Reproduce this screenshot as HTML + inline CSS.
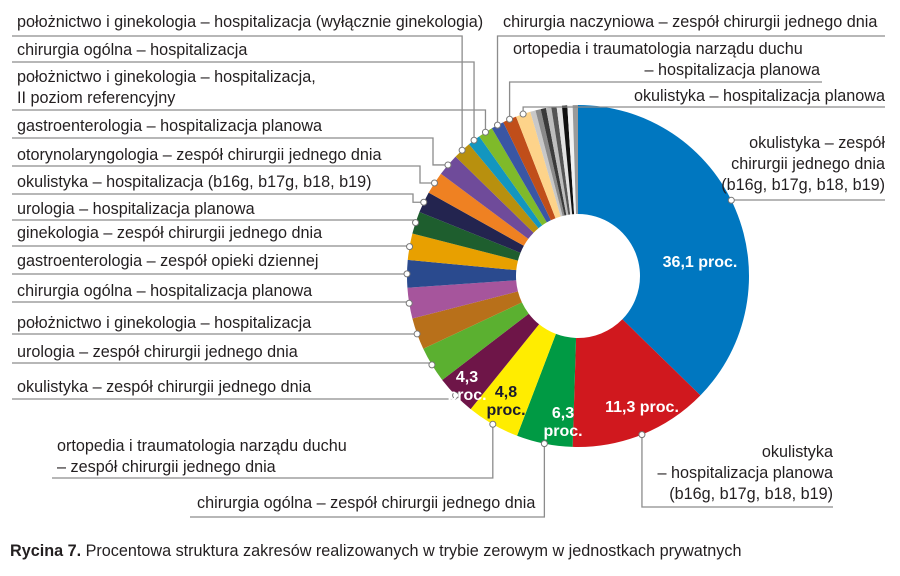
<!DOCTYPE html>
<html><head><meta charset="utf-8">
<style>
html,body{margin:0;padding:0;background:#fff;}
body{width:900px;height:571px;overflow:hidden;font-family:"Liberation Sans",sans-serif;}
svg text{font-family:"Liberation Sans",sans-serif;}
</style></head>
<body>
<svg id="chart" width="900" height="571" viewBox="0 0 900 571" xmlns="http://www.w3.org/2000/svg">
<g id="slices"></g>
<g id="callouts"></g>
<g id="labels" font-size="16.2" fill="#231f20"></g>
<g id="vals" font-size="16" font-weight="bold" text-anchor="middle"></g>
<text x="10" y="556" font-size="16.2" fill="#231f20"><tspan font-weight="bold">Rycina 7.</tspan> Procentowa struktura zakresów realizowanych w trybie zerowym w jednostkach prywatnych</text>
</svg>
<script>
const shares = [37.3,13.2,5.3,5.0,3.8,3.4,3.0,2.9,2.6,2.5,2.1,2.0,2.1,2.1,1.7,1.2,1.4,1.2,1.3,1.4,0.5,0.5,0.5,0.5,0.5,0.5,0.5,0.5,0.5];
const colors = ["#0077c0","#d0181e","#009a44","#ffed00","#6e1548","#5bb030","#b8701a","#a6559c","#2a4a8e","#e8a000","#1e5e2e","#23244f","#ef8122","#6f4b9a","#b8900e","#1396bf","#7fba2a","#3a56a4","#c04e1a","#fdd38a","#c8c8c8","#8a8a8a","#3a3a3a","#bdbdbd","#555","#e2e2e2","#111","#f2f2f2","#9a9a9a"];
const valueTexts = ["36,1 proc.","11,3 proc.","6,3|proc.","4,8|proc.","4,3|proc."];
const cx=578, cy=276, R=171, r0=62;
const svgNS="http://www.w3.org/2000/svg";
function ang(p){return p/100*2*Math.PI;}
function pt(a,rad){return [cx+rad*Math.sin(a), cy-rad*Math.cos(a)];}
const gS=document.getElementById('slices');
let cum=0; const mids=[];
shares.forEach((s,i)=>{
  const a0=ang(cum), a1=ang(cum+s); cum+=s; mids.push((a0+a1)/2);
  const [x0,y0]=pt(a0,R),[x1,y1]=pt(a1,R),[x2,y2]=pt(a1,r0),[x3,y3]=pt(a0,r0);
  const lg=(a1-a0)>Math.PI?1:0;
  const p=document.createElementNS(svgNS,'path');
  p.setAttribute('d',`M${x0},${y0}A${R},${R} 0 ${lg} 1 ${x1},${y1}L${x2},${y2}A${r0},${r0} 0 ${lg} 0 ${x3},${y3}Z`);
  p.setAttribute('fill',colors[i]);
  
  
  gS.appendChild(p);
});
const gV=document.getElementById('vals');
const valPos=[[700,267,"#fff"],[642,412,"#fff"],[563,418,"#fff"],[506,397,"#1a1a2e"],[467,382,"#fff"]];
valueTexts.forEach((t,i)=>{
  const parts=t.split('|');
  parts.forEach((pp,j)=>{
    const tx=document.createElementNS(svgNS,'text');
    tx.setAttribute('x',valPos[i][0]);tx.setAttribute('y',valPos[i][1]+j*18);
    tx.setAttribute('fill',valPos[i][2]);tx.textContent=pp;
    
    
    gV.appendChild(tx);
  });
});
const L=[
 [14,["położnictwo i ginekologia – hospitalizacja (wyłącznie ginekologia)"],17,27,"start",36,12,null,null],
 [15,["chirurgia ogólna – hospitalizacja"],17,55,"start",62,12,null,null],
 [16,["położnictwo i ginekologia – hospitalizacja,","II poziom referencyjny"],17,82,"start",110,12,null,null],
 [13,["gastroenterologia – hospitalizacja planowa"],17,131,"start",138,12,null,433],
 [12,["otorynolaryngologia – zespół chirurgii jednego dnia"],17,160,"start",166,12,null,420],
 [11,["okulistyka – hospitalizacja (b16g, b17g, b18, b19)"],17,187,"start",194,12,null,413],
 [10,["urologia – hospitalizacja planowa"],17,214,"start",220,12,null,null],
 [9,["ginekologia – zespół chirurgii jednego dnia"],17,238,"start",246,12,null,null],
 [8,["gastroenterologia – zespół opieki dziennej"],17,266,"start",274,12,null,null],
 [7,["chirurgia ogólna – hospitalizacja planowa"],17,296,"start",302,12,null,null],
 [6,["położnictwo i ginekologia – hospitalizacja"],17,328,"start",334,12,null,null],
 [5,["urologia – zespół chirurgii jednego dnia"],17,357,"start",363,12,null,null],
 [4,["okulistyka – zespół chirurgii jednego dnia"],17,392,"start",399,12,null,null],
 [3,["ortopedia i traumatologia narządu duchu","– zespół chirurgii jednego dnia"],57,451,"start",478,52,null,null],
 [2,["chirurgia ogólna – zespół chirurgii jednego dnia"],197,508,"start",517,190,null,null],
 [17,["chirurgia naczyniowa – zespół chirurgii jednego dnia"],503,27,"start",36,null,885,null],
 [18,["ortopedia i traumatologia narządu duchu","– hospitalizacja planowa"],820,54,"end",82,null,822,null],
 [19,["okulistyka – hospitalizacja planowa"],885,101,"end",107,null,885,null],
 [0,["okulistyka – zespół","chirurgii jednego dnia","(b16g, b17g, b18, b19)"],885,148,"end",200,null,885,null],
 [1,["okulistyka","– hospitalizacja planowa","(b16g, b17g, b18, b19)"],833,457,"end",507,null,833,null]
];
const gL=document.getElementById('labels'), gC=document.getElementById('callouts');
L.forEach((c,k)=>{
  const [si,lines,tx,ty,anc,ly,sx,ex,elb]=c;
  const t=document.createElementNS(svgNS,'text');
  t.setAttribute('text-anchor',anc);
  
  
  lines.forEach((s,j)=>{
    const ts=document.createElementNS(svgNS,'tspan');
    ts.setAttribute('x',tx);ts.setAttribute('y',ty+j*21);
    if(anc==="end"&&k===16&&j===0){ts.setAttribute('x',513);ts.setAttribute('text-anchor','start');}
    ts.textContent=s;t.appendChild(ts);
  });
  gL.appendChild(t);
  const [dx,dy]=pt(si===0?ang(17.7):mids[si],R);
  let pts;
  if(sx!==null){
    if(elb!==null) pts=[[sx,ly],[elb,ly],[elb,dy],[dx,dy]];
    else pts=[[sx,ly],[dx,ly],[dx,dy]];
  } else {
    pts=[[ex,ly],[dx,ly],[dx,dy]];
  }
  const pl=document.createElementNS(svgNS,'polyline');
  pl.setAttribute('points',pts.map(p=>p.join(',')).join(' '));
  pl.setAttribute('fill','none');pl.setAttribute('stroke','#8c8c8c');pl.setAttribute('stroke-width','1.3');
  
  
  gC.appendChild(pl);
  const cc=document.createElementNS(svgNS,'circle');
  cc.setAttribute('cx',dx);cc.setAttribute('cy',dy);cc.setAttribute('r',3);
  cc.setAttribute('fill','#fff');cc.setAttribute('stroke','#777');cc.setAttribute('stroke-width','1');
  
  
  gC.appendChild(cc);
});
</script>
</body></html>
